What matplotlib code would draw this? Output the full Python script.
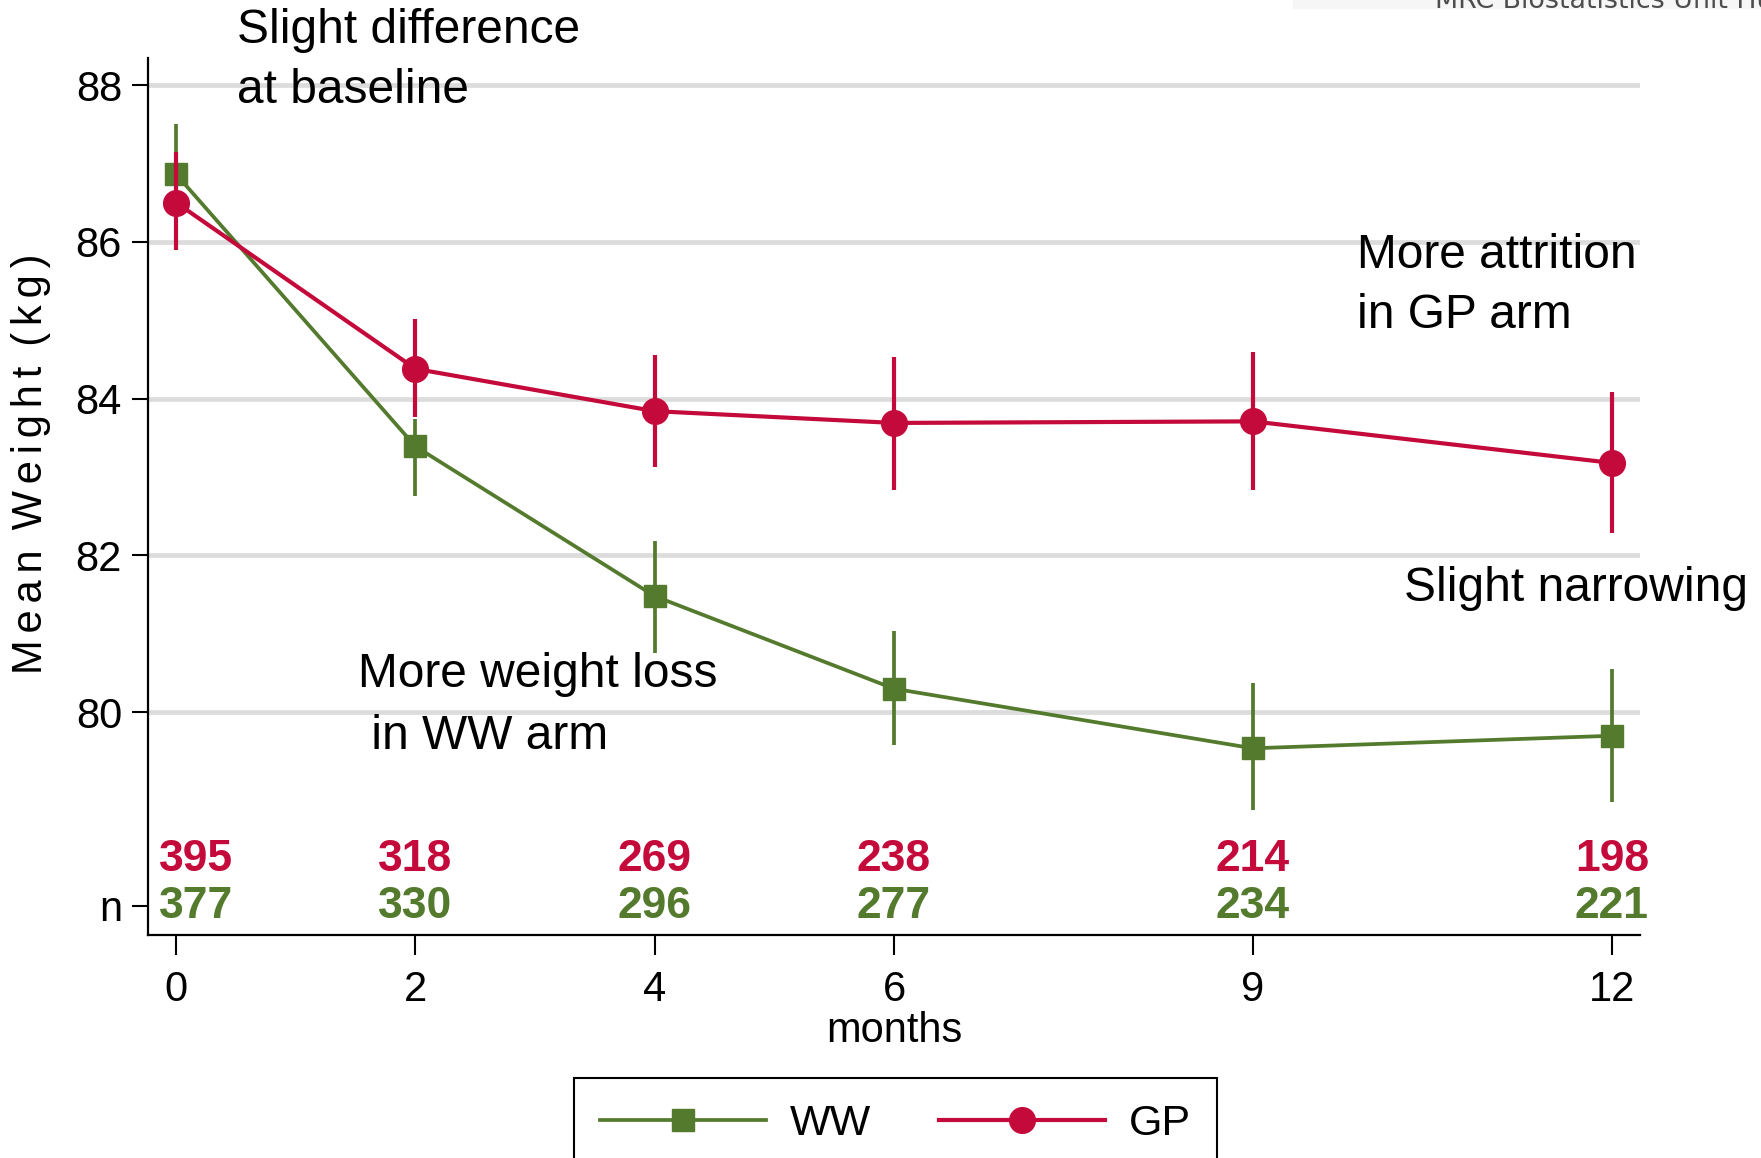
import matplotlib.pyplot as plt
from matplotlib.patches import Rectangle

plt.rcParams['font.family'] = ['Liberation Sans', 'DejaVu Sans']

GREEN = '#547A2E'
RED = '#C40A3B'

months = [0, 2, 4, 6, 9, 12]
ww_mean = [86.86, 83.39, 81.48, 80.30, 79.54, 79.70]
ww_lo = [86.23, 82.76, 80.76, 79.58, 78.75, 78.86]
ww_hi = [87.50, 83.74, 82.19, 81.03, 80.37, 80.55]
gp_mean = [86.50, 84.38, 83.84, 83.69, 83.71, 83.18]
gp_lo = [85.90, 83.76, 83.13, 82.84, 82.84, 82.29]
gp_hi = [87.14, 85.01, 84.56, 84.53, 84.60, 84.08]
ww_n = [377, 330, 296, 277, 234, 221]
gp_n = [395, 318, 269, 238, 214, 198]

fig = plt.figure(figsize=(17.61, 11.58), dpi=100)
fig.patches.append(Rectangle((1293 / 1761, 1 - 8 / 1158), 1, 8 / 1158,
                             transform=fig.transFigure, color='#F6F6F6', zorder=0))
fig.text(1435 / 1761, 1 - 8.3 / 1158, 'MRC Biostatistics Unit Hub for Trials Methodology Research',
         fontsize=19.4, family='DejaVu Sans', color='#4d4d4d', va='baseline')

ax = fig.add_axes([0.0843, 0.1930, 0.8468, 0.7566])
ax.set_xlim(-0.232, 12.232)
ax.set_ylim(77.165, 88.34)

for s in ['top', 'right']:
    ax.spines[s].set_visible(False)
for s in ['left', 'bottom']:
    ax.spines[s].set_linewidth(1.6)

ax.set_xticks(months)
ax.set_yticks([80, 82, 84, 86, 88])
ax.set_yticks([77.53], minor=True)
ax.set_yticklabels(['n'], minor=True)
ax.yaxis.grid(True, which='major', color='#DCDCDC', lw=3.4)
ax.set_axisbelow(True)
ax.tick_params(axis='x', length=14.5, width=1.5, labelsize=30, pad=11)
ax.tick_params(axis='y', which='both', length=11.5, width=1.5, labelsize=30, pad=7.5)

# CIs
ax.errorbar(months, ww_mean, yerr=[[m - l for m, l in zip(ww_mean, ww_lo)],
                                   [h - m for m, h in zip(ww_mean, ww_hi)]],
            fmt='none', ecolor=GREEN, elinewidth=2.7, capsize=0)
ax.plot(months, ww_mean, color=GREEN, lw=2.7, marker='s', ms=16, label='WW')
ax.errorbar(months, gp_mean, yerr=[[m - l for m, l in zip(gp_mean, gp_lo)],
                                   [h - m for m, h in zip(gp_mean, gp_hi)]],
            fmt='none', ecolor=RED, elinewidth=3.0, capsize=0)
ax.plot(months, gp_mean, color=RED, lw=3.0, marker='o', ms=18.5, label='GP')

# numbers at risk
offsets = [14, 0, 0, 0, 0, 0]
for m, a, b, dx in zip(months, gp_n, ww_n, offsets):
    ax.annotate(str(a), (m, 77.97), xytext=(dx, 0), textcoords='offset points',
                ha='center', va='baseline', fontsize=32, fontweight='bold', color=RED)
    ax.annotate(str(b), (m, 77.38), xytext=(dx, 0), textcoords='offset points',
                ha='center', va='baseline', fontsize=32, fontweight='bold', color=GREEN)

# y is the baseline of the last line
notes = [
    (0.507, 87.77, 'Slight difference\nat baseline', 1.43),
    (9.87, 84.90, 'More attrition\nin GP arm', 1.43),
    (10.26, 81.42, 'Slight narrowing', 1.43),
    (1.52, 79.53, 'More weight loss\n in WW arm', 1.5),
]
for x, y, t, ls in notes:
    ax.text(x, y, t, fontsize=34.5, va='baseline', ha='left', linespacing=ls, clip_on=False)

ylab = ' \u2009'.join('\u2006'.join(w) for w in ['Mean', 'Weight', '(kg)'])
ax.set_ylabel(ylab, fontsize=30, va='center', ha='center')
ax.yaxis.set_label_coords(-0.0788, 0.537)
ax.set_xlabel('months', fontsize=30, va='baseline')
ax.xaxis.set_label_coords(0.5, -0.1227)

leg = fig.legend(loc='upper center', bbox_to_anchor=(0.5085, 0.0691), ncol=2, fontsize=31,
                 frameon=True, fancybox=False, edgecolor='black', framealpha=1,
                 handlelength=3.85, handletextpad=0.55, columnspacing=1.6,
                 borderpad=0.6, borderaxespad=0)
leg.get_frame().set_linewidth(1.5)

plt.savefig('out.png', dpi=100)
